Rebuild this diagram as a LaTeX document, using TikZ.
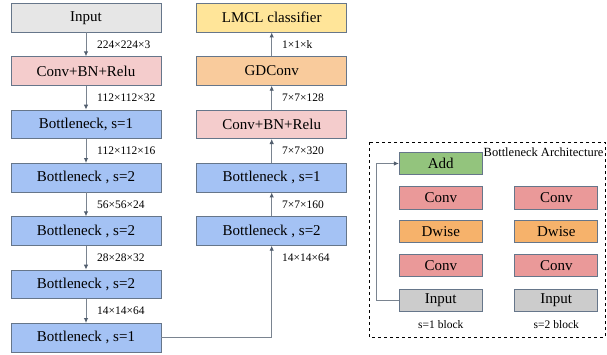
\documentclass[tikz,border=0pt]{standalone}
\usepackage{fontspec}
\setmainfont{Liberation Serif}
\usepackage{tikz}
\usetikzlibrary{arrows.meta,calc}
\definecolor{edge}{HTML}{66768A}
\definecolor{wire}{HTML}{7A8490}
\definecolor{ingray}{HTML}{E6E6E6}
\definecolor{cbr}{HTML}{F4CCCC}
\definecolor{bneck}{HTML}{A4C2F4}
\definecolor{gdc}{HTML}{F9CB9C}
\definecolor{lmcl}{HTML}{FFE599}
\definecolor{addg}{HTML}{93C47D}
\definecolor{convr}{HTML}{EA9999}
\definecolor{dwo}{HTML}{F6B26B}
\definecolor{inpg}{HTML}{CCCCCC}
\begin{document}
\begin{tikzpicture}[
  layer/.style={draw=edge,line width=0.9pt,minimum width=150pt,minimum height=28.5pt,inner sep=0pt,font=\fontsize{15}{18}\selectfont},
  op/.style={draw=edge,line width=0.9pt,minimum width=83pt,minimum height=22.5pt,inner sep=0pt,font=\fontsize{15}{18}\selectfont},
  dim/.style={anchor=west,inner sep=0pt,font=\fontsize{11.5}{14}\selectfont},
  flow/.style={draw=wire,line width=0.9pt,-{Latex[length=5pt,width=4.5pt,color=edge!80!black]}}]
\useasboundingbox (0pt,0pt) rectangle (607pt,-354pt);
\node[layer,fill=ingray] (1) at (86pt,-17.7pt) {Input};
\node[layer,fill=cbr] (2) at (86pt,-71pt) {Conv+BN+Relu};
\node[layer,fill=bneck] (3) at (86pt,-124.3pt) {Bottleneck, s=1};
\node[layer,fill=bneck] (4) at (86pt,-177.7pt) {Bottleneck , s=2};
\node[layer,fill=bneck] (5) at (86pt,-231pt) {Bottleneck , s=2};
\node[layer,fill=bneck] (6) at (86pt,-284.3pt) {Bottleneck , s=2};
\node[layer,fill=bneck] (7) at (86pt,-337.7pt) {Bottleneck , s=1};
\node[layer,fill=bneck] (8) at (271.7pt,-231pt) {Bottleneck , s=2};
\node[layer,fill=bneck] (9) at (271.7pt,-177.7pt) {Bottleneck , s=1};
\node[layer,fill=cbr] (10) at (271.7pt,-124.3pt) {Conv+BN+Relu};
\node[layer,fill=gdc] (11) at (271.7pt,-71pt) {GDConv};
\node[layer,fill=lmcl] (12) at (271.7pt,-17.7pt) {LMCL classifier};
\foreach \a/\b in {1/2,2/3,3/4,4/5,5/6,6/7,8/9,9/10,10/11,11/12}
  \draw[flow] (\a) -- (\b);
\draw[flow] (7.east) -| (8.south);
\node[dim] at (97pt,-44.5pt) {224×224×3};
\node[dim] at (97pt,-97.7pt) {112×112×32};
\node[dim] at (97pt,-151pt) {112×112×16};
\node[dim] at (97pt,-204.3pt) {56×56×24};
\node[dim] at (97pt,-257.7pt) {28×28×32};
\node[dim] at (97pt,-311pt) {14×14×64};
\node[dim] at (282pt,-44.5pt) {1×1×k};
\node[dim] at (282pt,-97.7pt) {7×7×128};
\node[dim] at (282pt,-151pt) {7×7×320};
\node[dim] at (282pt,-204.3pt) {7×7×160};
\node[dim] at (282pt,-257.5pt) {14×14×64};
\draw[black,line width=0.9pt,dashed] (369pt,-142pt) rectangle (605pt,-337pt);
\node[dim,font=\fontsize{12.5}{15}\selectfont] (13) at (483.5pt,-152.7pt) {Bottleneck Architecture};
\node[op,fill=addg] (a) at (440.8pt,-163.5pt) {Add};
\node[op,fill=convr] (b) at (440.8pt,-197.8pt) {Conv};
\node[op,fill=dwo] (c) at (440.8pt,-231.2pt) {Dwise};
\node[op,fill=convr] (d) at (440.8pt,-265.5pt) {Conv};
\node[op,fill=inpg] (e) at (440.8pt,-300.3pt) {Input};
\node[op,fill=convr] (f) at (556.3pt,-197.8pt) {Conv};
\node[op,fill=dwo] (g) at (556.3pt,-231.2pt) {Dwise};
\node[op,fill=convr] (h) at (556.3pt,-265.5pt) {Conv};
\node[op,fill=inpg] (i) at (556.3pt,-300.3pt) {Input};
\node[font=\fontsize{11.5}{14}\selectfont] (j) at (440.8pt,-325pt) {s=1 block};
\node[font=\fontsize{11.5}{14}\selectfont] (k) at (556.3pt,-325pt) {s=2 block};
\draw[flow] (e.west) -- ++(-22.5pt,0) |- (a.west);
\end{tikzpicture}
\end{document}
